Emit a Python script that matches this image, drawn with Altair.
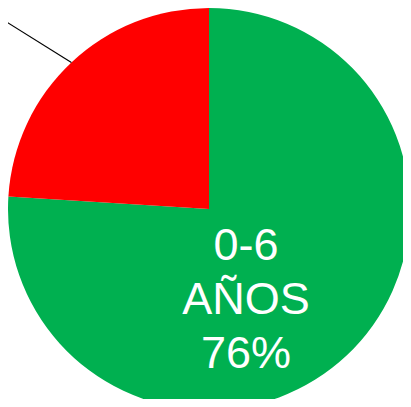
import math
import altair as alt
import pandas as pd

categories = ["0-6 AÑOS", "OTROS"]
values = [76, 24]
colors = ["#00B050", "#FF0000"]
label_lines = ["0-6", "AÑOS", "76%"]

df = pd.DataFrame({"cat": categories, "val": values, "ord": [0, 1]})

W = 395
H = 391
R = 201
cx, cy = 201, 201

# leader line for the second slice (its label lies outside the visible area)
total = sum(values)
mid = (values[0] + values[1] / 2) / total * 2 * math.pi
sx = cx + R * math.sin(mid)
sy = cy - R * math.cos(mid)

pie = alt.Chart(df).mark_arc(outerRadius=R, stroke=None).encode(
    theta=alt.Theta("val:Q", stack=True),
    order=alt.Order("ord:Q"),
    color=alt.Color("cat:N", scale=alt.Scale(domain=categories, range=colors), legend=None),
    x=alt.value(cx),
    y=alt.value(cy),
)

leader = alt.Chart(df.head(1)).mark_rule(color="black", strokeWidth=1.2).encode(
    x=alt.value(sx), y=alt.value(sy), x2=alt.value(sx - 80), y2=alt.value(sy - 50)
)

label = alt.Chart(pd.DataFrame({"t": [label_lines]})).mark_text(
    color="white", font="Liberation Sans", fontSize=45, lineHeight=54,
    align="center", baseline="alphabetic"
).encode(text="t", x=alt.value(238), y=alt.value(252))

chart = alt.layer(pie, leader, label).properties(
    width=W, height=H, padding=0, autosize=alt.AutoSizeParams(type="none")
).configure_view(stroke=None)

chart.save("out.html", embed_options={"renderer": "svg", "actions": False})
